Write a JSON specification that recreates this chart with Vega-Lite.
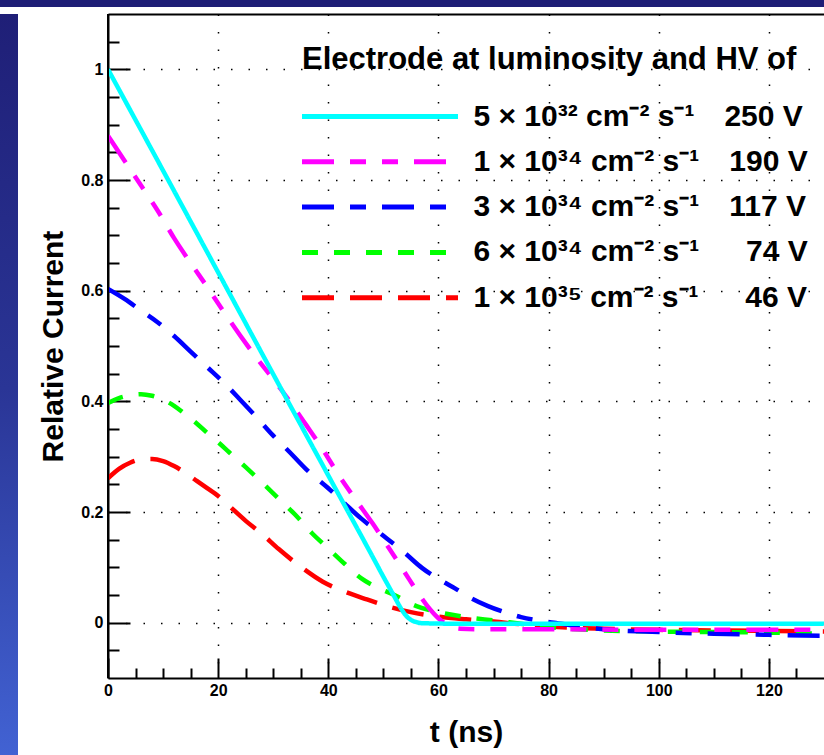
{
  "$schema": "https://vega.github.io/schema/vega-lite/v6.json",
  "background": "white",
  "padding": 0,
  "spacing": 0,
  "config": {"view": {"stroke": null}, "concat": {"spacing": 0}},
  "datasets": {
    "curves": [
      {"run":"1e35","t":0,"v":0.261},{"run":"1e35","t":2,"v":0.278},{"run":"1e35","t":4,"v":0.289},{"run":"1e35","t":6,"v":0.295},{"run":"1e35","t":8,"v":0.296},{"run":"1e35","t":10,"v":0.292},{"run":"1e35","t":12,"v":0.283},{"run":"1e35","t":14,"v":0.271},{"run":"1e35","t":16,"v":0.257},{"run":"1e35","t":18,"v":0.243},{"run":"1e35","t":20,"v":0.229},{"run":"1e35","t":22,"v":0.211},{"run":"1e35","t":25,"v":0.184},{"run":"1e35","t":28,"v":0.16},{"run":"1e35","t":31,"v":0.133},{"run":"1e35","t":35,"v":0.101},{"run":"1e35","t":39,"v":0.074},{"run":"1e35","t":43,"v":0.056},{"run":"1e35","t":47,"v":0.042},{"run":"1e35","t":51,"v":0.029},{"run":"1e35","t":55,"v":0.019},{"run":"1e35","t":60,"v":0.011},{"run":"1e35","t":65,"v":0.006},{"run":"1e35","t":70,"v":0.002},{"run":"1e35","t":75,"v":-0.003},{"run":"1e35","t":80,"v":-0.007},{"run":"1e35","t":90,"v":-0.011},{"run":"1e35","t":100,"v":-0.013},{"run":"1e35","t":110,"v":-0.014},{"run":"1e35","t":120,"v":-0.015},{"run":"1e35","t":130,"v":-0.016},
      {"run":"6e34","t":0,"v":0.397},{"run":"6e34","t":2,"v":0.406},{"run":"6e34","t":4,"v":0.411},{"run":"6e34","t":6,"v":0.413},{"run":"6e34","t":8,"v":0.41},{"run":"6e34","t":10,"v":0.403},{"run":"6e34","t":12,"v":0.392},{"run":"6e34","t":14,"v":0.377},{"run":"6e34","t":16,"v":0.361},{"run":"6e34","t":18,"v":0.343},{"run":"6e34","t":20,"v":0.326},{"run":"6e34","t":22,"v":0.308},{"run":"6e34","t":25,"v":0.281},{"run":"6e34","t":28,"v":0.253},{"run":"6e34","t":31,"v":0.224},{"run":"6e34","t":34,"v":0.195},{"run":"6e34","t":37,"v":0.162},{"run":"6e34","t":40,"v":0.134},{"run":"6e34","t":43,"v":0.106},{"run":"6e34","t":46,"v":0.08},{"run":"6e34","t":49,"v":0.063},{"run":"6e34","t":52,"v":0.05},{"run":"6e34","t":56,"v":0.03},{"run":"6e34","t":60,"v":0.019},{"run":"6e34","t":65,"v":0.01},{"run":"6e34","t":70,"v":0.004},{"run":"6e34","t":75,"v":-0.002},{"run":"6e34","t":80,"v":-0.008},{"run":"6e34","t":90,"v":-0.014},{"run":"6e34","t":100,"v":-0.016},{"run":"6e34","t":110,"v":-0.017},{"run":"6e34","t":120,"v":-0.018},{"run":"6e34","t":130,"v":-0.02},
      {"run":"3e34","t":0,"v":0.603},{"run":"3e34","t":3,"v":0.585},{"run":"3e34","t":6,"v":0.564},{"run":"3e34","t":9,"v":0.543},{"run":"3e34","t":12,"v":0.518},{"run":"3e34","t":15,"v":0.49},{"run":"3e34","t":18,"v":0.462},{"run":"3e34","t":21,"v":0.434},{"run":"3e34","t":24,"v":0.403},{"run":"3e34","t":27,"v":0.371},{"run":"3e34","t":30,"v":0.338},{"run":"3e34","t":33,"v":0.308},{"run":"3e34","t":36,"v":0.277},{"run":"3e34","t":40,"v":0.243},{"run":"3e34","t":43,"v":0.215},{"run":"3e34","t":46,"v":0.188},{"run":"3e34","t":50,"v":0.157},{"run":"3e34","t":54,"v":0.125},{"run":"3e34","t":57,"v":0.099},{"run":"3e34","t":60,"v":0.079},{"run":"3e34","t":63,"v":0.062},{"run":"3e34","t":66,"v":0.044},{"run":"3e34","t":69,"v":0.03},{"run":"3e34","t":72,"v":0.019},{"run":"3e34","t":75,"v":0.01},{"run":"3e34","t":78,"v":0.004},{"run":"3e34","t":81,"v":0.0},{"run":"3e34","t":85,"v":-0.006},{"run":"3e34","t":90,"v":-0.012},{"run":"3e34","t":100,"v":-0.017},{"run":"3e34","t":110,"v":-0.02},{"run":"3e34","t":120,"v":-0.022},{"run":"3e34","t":130,"v":-0.024},
      {"run":"1e34","t":0,"v":0.88},{"run":"1e34","t":3,"v":0.835},{"run":"1e34","t":6,"v":0.79},{"run":"1e34","t":9,"v":0.745},{"run":"1e34","t":12,"v":0.695},{"run":"1e34","t":15,"v":0.65},{"run":"1e34","t":18,"v":0.607},{"run":"1e34","t":21,"v":0.562},{"run":"1e34","t":24,"v":0.519},{"run":"1e34","t":27,"v":0.478},{"run":"1e34","t":30,"v":0.44},{"run":"1e34","t":33,"v":0.4},{"run":"1e34","t":36,"v":0.357},{"run":"1e34","t":39,"v":0.313},{"run":"1e34","t":42,"v":0.265},{"run":"1e34","t":45,"v":0.222},{"run":"1e34","t":48,"v":0.18},{"run":"1e34","t":51,"v":0.135},{"run":"1e34","t":54,"v":0.089},{"run":"1e34","t":56,"v":0.058},{"run":"1e34","t":58,"v":0.03},{"run":"1e34","t":60,"v":0.008},{"run":"1e34","t":62,"v":-0.006},{"run":"1e34","t":64,"v":-0.011},{"run":"1e34","t":68,"v":-0.012},{"run":"1e34","t":80,"v":-0.012},{"run":"1e34","t":100,"v":-0.013},{"run":"1e34","t":130,"v":-0.013},
      {"run":"5e32","t":0,"v":1.0},{"run":"5e32","t":10,"v":0.817},{"run":"5e32","t":20,"v":0.633},{"run":"5e32","t":30,"v":0.449},{"run":"5e32","t":40,"v":0.266},{"run":"5e32","t":48,"v":0.12},{"run":"5e32","t":50,"v":0.083},{"run":"5e32","t":52,"v":0.047},{"run":"5e32","t":53,"v":0.029},{"run":"5e32","t":54,"v":0.014},{"run":"5e32","t":55,"v":0.005},{"run":"5e32","t":56,"v":0.001},{"run":"5e32","t":57,"v":-0.001},{"run":"5e32","t":65,"v":-0.002},{"run":"5e32","t":130,"v":-0.002}
    ]
  },
  "vconcat": [
    {
      "width": 824, "height": 7,
      "data": {"values": [{}]},
      "mark": {"type": "rect", "fill": "#1e1e76"},
      "encoding": {
        "x": {"datum": 0, "type": "quantitative", "scale": {"domain": [0, 1]}, "axis": null},
        "x2": {"datum": 1},
        "y": {"datum": 0, "type": "quantitative", "scale": {"domain": [0, 1]}, "axis": null},
        "y2": {"datum": 1}
      }
    },
    {
      "spacing": 20,
      "hconcat": [
        {
          "width": 18, "height": 748,
          "data": {"values": [{}]},
          "mark": {"type": "rect", "fill": {"gradient": "linear", "x1": 0, "y1": 0, "x2": 0, "y2": 1, "stops": [{"offset": 0, "color": "#1f1f77"}, {"offset": 0.5, "color": "#2a3596"}, {"offset": 1, "color": "#4263d4"}]}},
          "encoding": {
            "x": {"datum": 0, "type": "quantitative", "scale": {"domain": [0, 1]}, "axis": null},
            "x2": {"datum": 1},
            "y": {"datum": 0, "type": "quantitative", "scale": {"domain": [0, 1]}, "axis": null},
            "y2": {"datum": 1}
          }
        },
        {
          "width": 716, "height": 664,
          "layer": [
            {
              "data": {"name": "curves"},
              "mark": {"type": "line", "strokeWidth": 4.5, "strokeCap": "butt", "interpolate": "monotone", "clip": true},
              "encoding": {
                "x": {
                  "field": "t", "type": "quantitative",
                  "scale": {"domain": [0, 130], "nice": false, "zero": false},
                  "axis": {
                    "orient": "bottom",
                    "values": [0,5,10,15,20,25,30,35,40,45,50,55,60,65,70,75,80,85,90,95,100,105,110,115,120,125],
                    "labelExpr": "datum.value % 20 == 0 ? format(datum.value, 'd') : ''",
                    "labelFont": "Liberation Sans", "labelFontSize": 16, "labelFontWeight": "bold", "labelColor": "black",
                    "labelPadding": 24, "labelFlush": false, "labelOverlap": false, "labelBound": false,
                    "tickSize": {"condition": {"test": "datum.value % 20 == 0", "value": -20}, "value": -10},
                    "tickColor": "black", "tickWidth": 2,
                    "grid": true, "gridColor": "black", "gridWidth": 1.5, "gridDash": [1.5, 16],
                    "gridOpacity": {"condition": {"test": "datum.value % 20 == 0 && datum.value > 0", "value": 1}, "value": 0},
                    "domainColor": "black", "domainWidth": 2,
                    "title": "t (ns)", "titleFont": "Liberation Sans", "titleFontSize": 30, "titleFontWeight": "bold", "titleColor": "black", "titlePadding": 9
                  }
                },
                "y": {
                  "field": "v", "type": "quantitative",
                  "scale": {"domain": [-0.1, 1.1], "nice": false, "zero": false},
                  "axis": {
                    "orient": "left",
                    "values": [-0.05,0,0.05,0.1,0.15,0.2,0.25,0.3,0.35,0.4,0.45,0.5,0.55,0.6,0.65,0.7,0.75,0.8,0.85,0.9,0.95,1,1.05],
                    "labelExpr": "abs(datum.value*5 - round(datum.value*5)) < 0.01 ? format(datum.value, '.1~f') : ''",
                    "labelFont": "Liberation Sans", "labelFontSize": 16, "labelFontWeight": "bold", "labelColor": "black",
                    "labelPadding": 27, "labelFlush": false, "labelOverlap": false, "labelBound": false,
                    "tickSize": {"condition": {"test": "abs(datum.value*5 - round(datum.value*5)) < 0.01", "value": -22}, "value": -11},
                    "tickColor": "black", "tickWidth": 2,
                    "grid": true, "gridColor": "black", "gridWidth": 1.5, "gridDash": [1.5, 16],
                    "gridOpacity": {"condition": {"test": "abs(datum.value*5 - round(datum.value*5)) < 0.01", "value": 1}, "value": 0},
                    "domainColor": "black", "domainWidth": 2,
                    "title": "Relative Current", "titleFont": "Liberation Sans", "titleFontSize": 30, "titleFontWeight": "bold", "titleColor": "black", "titlePadding": 12
                  }
                },
                "color": {
                  "field": "run", "type": "nominal",
                  "scale": {"domain": ["5e32", "1e34", "3e34", "6e34", "1e35"], "range": ["#00ffff", "#ff00ff", "#0000ff", "#00ff00", "#ff0000"]},
                  "legend": {
                    "orient": "none", "legendX": 302, "legendY": 45, "padding": 0,
                    "title": "Electrode at luminosity and HV of",
                    "titleFont": "Liberation Sans", "titleFontSize": 31, "titleFontWeight": "bold", "titleColor": "black", "titlePadding": 18, "titleLimit": 1000,
                    "labelFont": "Liberation Sans", "labelFontSize": 30, "labelFontWeight": "bold", "labelColor": "black", "labelLimit": 1000, "labelOffset": 13,
                    "labelExpr": "datum.label == '5e32' ? '5 \u00d7 10\u00b3\u00b2 cm\u207b\u00b2 s\u207b\u00b9\u2002\u2002250 V' : datum.label == '1e34' ? '1 \u00d7 10\u00b3\u2074 cm\u207b\u00b2 s\u207b\u00b9\u2002\u2002190 V' : datum.label == '3e34' ? '3 \u00d7 10\u00b3\u2074 cm\u207b\u00b2 s\u207b\u00b9\u2002\u2002117 V' : datum.label == '6e34' ? '6 \u00d7 10\u00b3\u2074 cm\u207b\u00b2 s\u207b\u00b9\u2002\u2002\u200774 V' : '1 \u00d7 10\u00b3\u2075 cm\u207b\u00b2 s\u207b\u00b9\u2002\u2002\u200746 V'",
                    "symbolType": "stroke", "symbolSize": 24336, "symbolStrokeWidth": 5, "symbolOffset": -2.5,
                    "clipHeight": 45, "rowPadding": 0.3
                  }
                },
                "strokeDash": {
                  "field": "run", "type": "nominal",
                  "scale": {"domain": ["5e32", "1e34", "3e34", "6e34", "1e35"], "range": [[1, 0], [32, 16, 16, 16, 16, 16], [32, 16, 16, 16], [16, 16], [32, 16]]},
                  "legend": {
                    "orient": "none", "legendX": 302, "legendY": 45, "padding": 0,
                    "title": "Electrode at luminosity and HV of",
                    "titleFont": "Liberation Sans", "titleFontSize": 31, "titleFontWeight": "bold", "titleColor": "black", "titlePadding": 18, "titleLimit": 1000,
                    "labelFont": "Liberation Sans", "labelFontSize": 30, "labelFontWeight": "bold", "labelColor": "black", "labelLimit": 1000, "labelOffset": 13,
                    "labelExpr": "datum.label == '5e32' ? '5 \u00d7 10\u00b3\u00b2 cm\u207b\u00b2 s\u207b\u00b9\u2002\u2002250 V' : datum.label == '1e34' ? '1 \u00d7 10\u00b3\u2074 cm\u207b\u00b2 s\u207b\u00b9\u2002\u2002190 V' : datum.label == '3e34' ? '3 \u00d7 10\u00b3\u2074 cm\u207b\u00b2 s\u207b\u00b9\u2002\u2002117 V' : datum.label == '6e34' ? '6 \u00d7 10\u00b3\u2074 cm\u207b\u00b2 s\u207b\u00b9\u2002\u2002\u200774 V' : '1 \u00d7 10\u00b3\u2075 cm\u207b\u00b2 s\u207b\u00b9\u2002\u2002\u200746 V'",
                    "symbolType": "stroke", "symbolSize": 24336, "symbolStrokeWidth": 5, "symbolOffset": -2.5,
                    "clipHeight": 45, "rowPadding": 0.3
                  }
                }
              }
            },
            {
              "data": {"values": [{}]},
              "mark": {"type": "rule", "color": "black", "strokeWidth": 2},
              "encoding": {
                "x": {
                  "datum": 0, "type": "quantitative",
                  "axis": {"orient": "top", "values": [0], "labels": false, "grid": false, "title": null, "domain": true, "domainColor": "black", "domainWidth": 2, "ticks": true, "tickSize": 6.5, "tickWidth": 1, "tickColor": "transparent"}
                }
              }
            }
          ],
          "resolve": {"axis": {"x": "independent"}}
        }
      ]
    }
  ]
}
